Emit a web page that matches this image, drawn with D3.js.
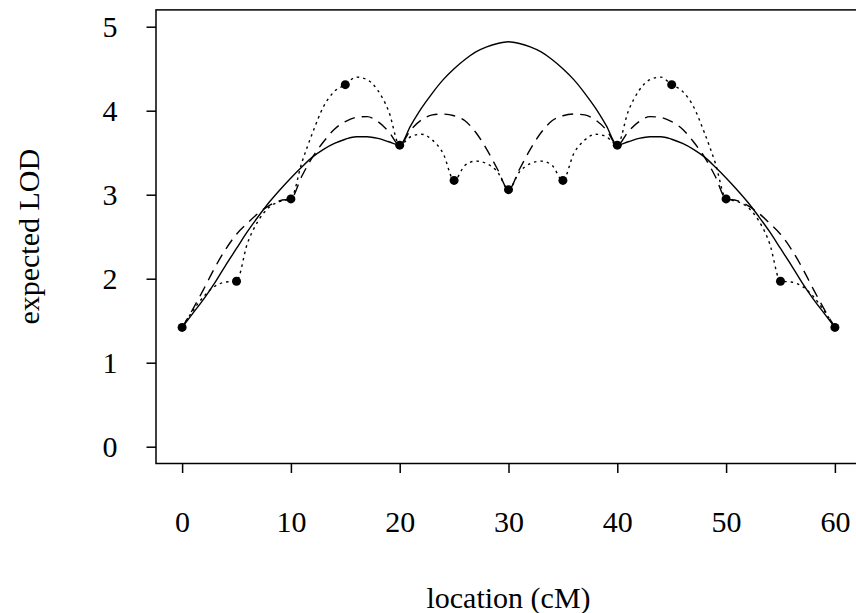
<!DOCTYPE html>
<html lang="en">
<head>
  <meta charset="UTF-8">
  <title>expected LOD</title>
  <script src="https://cdn.jsdelivr.net/npm/d3@7"></script>
  <style>
    html, body { margin: 0; padding: 0; background: #fff; }
    svg text { font-family: "Liberation Serif", "Times New Roman", serif; }
  </style>
</head>
<body>
<script>
  // positions along the chromosome (cM)
  const positions = d3.range(0, 61);

  // expected LOD, markers every 20 cM (solid)
  const lod20 = [
    1.42, 1.59, 1.76, 1.95, 2.16, 2.36, 2.56, 2.74, 2.91, 3.06,
    3.20, 3.33, 3.45, 3.54, 3.61, 3.66, 3.69, 3.69, 3.67, 3.63,
    3.59, 3.82, 4.03, 4.21, 4.37, 4.50, 4.61, 4.70, 4.76, 4.80,
    4.82, 4.80, 4.76, 4.70, 4.61, 4.50, 4.37, 4.21, 4.03, 3.82,
    3.59, 3.63, 3.67, 3.69, 3.69, 3.66, 3.61, 3.54, 3.45, 3.33,
    3.20, 3.06, 2.91, 2.74, 2.56, 2.36, 2.16, 1.95, 1.76, 1.59,
    1.42
  ];

  // markers every 10 cM (dashed)
  const lod10 = [
    1.42, 1.64, 1.88, 2.13, 2.35, 2.53, 2.66, 2.78, 2.87, 2.93,
    2.95, 3.22, 3.45, 3.63, 3.78, 3.87, 3.92, 3.93, 3.87, 3.75,
    3.59, 3.77, 3.89, 3.95, 3.96, 3.94, 3.88, 3.74, 3.54, 3.30,
    3.06, 3.30, 3.54, 3.74, 3.88, 3.94, 3.96, 3.95, 3.89, 3.77,
    3.59, 3.75, 3.87, 3.93, 3.92, 3.87, 3.78, 3.63, 3.45, 3.22,
    2.95, 2.93, 2.87, 2.78, 2.66, 2.53, 2.35, 2.13, 1.88, 1.64,
    1.42
  ];

  // markers every 5 cM (dotted)
  const lod5 = [
    1.42, 1.62, 1.79, 1.91, 1.96, 1.97, 2.42, 2.69, 2.85, 2.92,
    2.95, 3.38, 3.74, 4.05, 4.23, 4.31, 4.40, 4.37, 4.24, 3.99,
    3.59, 3.69, 3.72, 3.65, 3.49, 3.17, 3.35, 3.40, 3.37, 3.27,
    3.06, 3.27, 3.37, 3.40, 3.35, 3.17, 3.49, 3.65, 3.72, 3.69,
    3.59, 3.99, 4.24, 4.37, 4.40, 4.31, 4.23, 4.05, 3.74, 3.38,
    2.95, 2.92, 2.85, 2.69, 2.42, 1.97, 1.96, 1.91, 1.79, 1.62,
    1.42
  ];

  // marker locations and their LOD
  const markerPos = [0, 5, 10, 15, 20, 25, 30, 35, 40, 45, 50, 55, 60];
  const markerLod = [1.42, 1.97, 2.95, 4.31, 3.59, 3.17, 3.06, 3.17, 3.59, 4.31, 2.95, 1.97, 1.42];

  const xTicks = [0, 10, 20, 30, 40, 50, 60];
  const yTicks = [0, 1, 2, 3, 4, 5];

  const width = 856;
  const height = 613;
  const plot = {left: 156, right: 861, top: 9.9, bottom: 463.5};

  const x = d3.scaleLinear().domain([-2.4, 62.4]).range([plot.left, plot.right]);
  const y = d3.scaleLinear().domain([-0.2, 5.2]).range([plot.bottom, plot.top]);

  const svg = d3.select('body').append('svg')
    .attr('width', width).attr('height', height);

  // box
  svg.append('rect')
    .attr('x', plot.left).attr('y', plot.top)
    .attr('width', plot.right - plot.left).attr('height', plot.bottom - plot.top)
    .attr('fill', 'none').attr('stroke', '#000').attr('stroke-width', 1.5);

  const xAxis = g => g
    .attr('transform', `translate(0,${plot.bottom})`)
    .call(d3.axisBottom(x).tickValues(xTicks).tickFormat(d3.format('d'))
      .tickSize(9.5).tickPadding(38).tickSizeOuter(0))
    .call(g => g.select('.domain').remove())
    .call(g => g.selectAll('line').attr('stroke', '#000').attr('stroke-width', 1.5))
    .call(g => g.selectAll('text').attr('fill', '#000').style('font-size', '30px'));

  const yAxis = g => g
    .attr('transform', `translate(${plot.left},0)`)
    .call(d3.axisLeft(y).tickValues(yTicks).tickFormat(d3.format('d'))
      .tickSize(9.5).tickPadding(29).tickSizeOuter(0))
    .call(g => g.select('.domain').remove())
    .call(g => g.selectAll('line').attr('stroke', '#000').attr('stroke-width', 1.5))
    .call(g => g.selectAll('text').attr('fill', '#000').style('font-size', '30px'));

  svg.append('g').call(xAxis);
  svg.append('g').call(yAxis);

  // axis titles
  svg.append('text')
    .attr('x', (plot.left + plot.right) / 2)
    .attr('y', 608)
    .attr('text-anchor', 'middle')
    .style('font-size', '30px')
    .text('location (cM)');

  svg.append('text')
    .attr('transform', `translate(39,${(plot.top + plot.bottom) / 2}) rotate(-90)`)
    .attr('text-anchor', 'middle')
    .style('font-size', '30px')
    .text('expected LOD');

  const line = d3.line()
    .x((d, i) => x(positions[i]))
    .y(d => y(d))
    .curve(d3.curveMonotoneX);

  svg.append('path').datum(lod20)
    .attr('fill', 'none').attr('stroke', '#000').attr('stroke-width', 1.4)
    .attr('d', line);

  svg.append('path').datum(lod10)
    .attr('fill', 'none').attr('stroke', '#000').attr('stroke-width', 1.4)
    .attr('stroke-dasharray', '11,7')
    .attr('d', line);

  svg.append('path').datum(lod5)
    .attr('fill', 'none').attr('stroke', '#000').attr('stroke-width', 1.4)
    .attr('stroke-dasharray', '2.5,4')
    .attr('d', line);

  // markers
  svg.append('g').selectAll('circle')
    .data(markerPos)
    .join('circle')
    .attr('cx', d => x(d))
    .attr('cy', (d, i) => y(markerLod[i]))
    .attr('r', 4.5)
    .attr('fill', '#000');
</script>
</body>
</html>
